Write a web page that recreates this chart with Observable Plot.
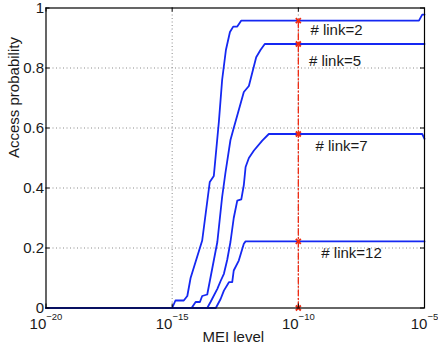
<!DOCTYPE html>
<html>
<head>
<meta charset="utf-8">
<script src="https://cdn.jsdelivr.net/npm/d3@7"></script>
<script src="https://cdn.jsdelivr.net/npm/@observablehq/plot@0.6"></script>
<style>
  html, body { margin: 0; padding: 0; background: #fff; }
  #chart { width: 438px; height: 351px; }
</style>
</head>
<body>
<div id="chart"></div>
<script>
// ---- data (x values are log10 of MEI level) ----
const xTickExp = [-20, -15, -10, -5];
const yTicks = [0, 0.2, 0.4, 0.6, 0.8, 1];
const yTickLabels = ["0", "0.2", "0.4", "0.6", "0.8", "1"];
const gridYVals = [0.2, 0.4, 0.6, 0.8];
const gridXExp = [-15, -10];

const link2X = [-20, -15.0, -14.87, -14.54, -14.40, -14.27, -13.81, -13.51, -13.35, -13.15, -13.02, -12.87, -12.71, -12.58, -12.42, -12.26, -5.22, -5.09, -5];
const link2Y = [0, 0, 0.025, 0.025, 0.04, 0.10, 0.225, 0.42, 0.44, 0.62, 0.76, 0.86, 0.92, 0.938, 0.938, 0.958, 0.958, 0.978, 0.978];

const link5X = [-20, -14.23, -14.07, -13.90, -13.81, -13.61, -13.21, -13.02, -12.89, -12.69, -12.56, -12.16, -11.96, -11.67, -11.50, -11.33, -5];
const link5Y = [0, 0, 0.02, 0.02, 0.04, 0.045, 0.22, 0.37, 0.45, 0.56, 0.60, 0.72, 0.74, 0.836, 0.86, 0.88, 0.88];

const link7X = [-20, -13.61, -13.48, -13.21, -13.08, -12.95, -12.82, -12.69, -12.56, -12.42, -12.26, -12.16, -12.09, -11.96, -11.76, -11.43, -11.17, -5.09, -5];
const link7Y = [0, 0, 0.02, 0.064, 0.09, 0.114, 0.16, 0.22, 0.30, 0.358, 0.362, 0.41, 0.47, 0.50, 0.525, 0.558, 0.58, 0.58, 0.564];

const link12X = [-20, -13.27, -13.08, -12.95, -12.75, -12.62, -12.56, -12.36, -12.16, -12.09, -5];
const link12Y = [0, 0, 0.03, 0.058, 0.086, 0.086, 0.125, 0.158, 0.214, 0.222, 0.222];

const markerExp = -10;
const markerY = [0, 0.222, 0.58, 0.88, 0.958];

const labelText = ["# link=2", "# link=5", "# link=7", "# link=12"];
const labelXExp = [-9.52, -9.58, -9.32, -9.09];
const labelY = [0.925, 0.822, 0.539, 0.183];

// ---- build tables ----
const series = [
  ["2", link2X, link2Y], ["5", link5X, link5Y],
  ["7", link7X, link7Y], ["12", link12X, link12Y]
];
const rows = series.flatMap(([name, xs, ys]) => xs.map((e, i) => ({name, x: 10 ** e, y: ys[i]})));
const markers = markerY.map(y => ({x: 10 ** markerExp, y}));
const labels = labelText.map((t, i) => ({text: t, x: 10 ** labelXExp[i], y: labelY[i]}));
const xTicks = xTickExp.map(e => 10 ** e);
const gridX = gridXExp.map(e => 10 ** e);

const W = 438, H = 351;
const mL = 45.5, mR = 14, mT = 7.5, mB = 43.5;
const pW = W - mL - mR, pH = H - mT - mB;
const tick = 4;

const chart = Plot.plot({
  width: W, height: H,
  marginLeft: mL, marginRight: mR, marginTop: mT, marginBottom: mB,
  style: {fontFamily: "'Liberation Sans', Arial, Helvetica, sans-serif", fontSize: "15px", color: "#1a1a1a", background: "#fff"},
  x: {type: "log", domain: [1e-20, 1e-5], axis: null},
  y: {domain: [0, 1], axis: null},
  marks: [
    Plot.ruleY(gridYVals, {y: d => d, stroke: "#8a8a8a", strokeWidth: 1, strokeDasharray: "1,2.5"}),
    Plot.ruleX(gridX, {x: d => d, stroke: "#8a8a8a", strokeWidth: 1, strokeDasharray: "1,2.5"}),
    Plot.line(rows, {x: "x", y: "y", z: "name", stroke: "#1528f2", strokeWidth: 1.8}),
    Plot.line(markers, {x: "x", y: "y", stroke: "#ee2a12", strokeWidth: 1.3, strokeDasharray: "6,2.5,1.2,2.5"}),
    Plot.dot(markers, {x: "x", y: "y", symbol: "times", r: 2.4, stroke: "#ee2a12", strokeWidth: 1.8}),
    Plot.text(labels, {x: "x", y: "y", text: "text", textAnchor: "start", fill: "#1a1a1a", fontSize: 15}),
    // inward ticks
    Plot.ruleX(xTicks, {x: d => d, insetTop: pH - tick, stroke: "#000"}),
    Plot.ruleX(xTicks, {x: d => d, insetBottom: pH - tick, stroke: "#000"}),
    Plot.ruleY(yTicks, {y: d => d, insetRight: pW - tick, stroke: "#000"}),
    Plot.ruleY(yTicks, {y: d => d, insetLeft: pW - tick, stroke: "#000"}),
    Plot.frame({stroke: "#000", strokeWidth: 1.2}),
    Plot.axisX({ticks: xTicks, tickSize: 0, tickPadding: 10, label: null,
      tickFormat: d => "10|" + String(Math.round(Math.log10(d))).replace("-", "\u2212")}),
    Plot.axisY({ticks: yTicks, tickSize: 0, tickPadding: 2, label: null,
      tickFormat: d => yTickLabels[yTicks.indexOf(d)]}),
    Plot.text(["MEI level"], {frameAnchor: "bottom", dy: 33.5, dx: -2, fontSize: 15, fill: "#1a1a1a"}),
    Plot.text(["Access probability"], {frameAnchor: "left", dx: -32, rotate: -90, fontSize: 15, fill: "#1a1a1a"})
  ]
});

// turn "10|−20" labels into base + superscript
d3.select(chart).selectAll("text").each(function() {
  const t = this.textContent;
  if (!/^10\|/.test(t)) return;
  const exp = t.split("|")[1];
  const sel = d3.select(this);
  sel.text(null);
  sel.append("tspan").text("10");
  sel.append("tspan").attr("dy", "-8.4").attr("font-size", "9.5px").text(exp);
});

document.getElementById("chart").appendChild(chart);
</script>
</body>
</html>
